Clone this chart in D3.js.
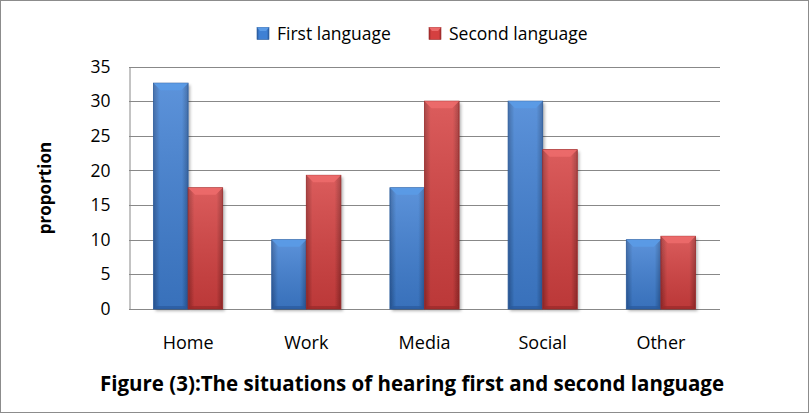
<!DOCTYPE html>
<html><head><meta charset="utf-8">
<script src="https://cdn.jsdelivr.net/npm/d3@7"></script>
<style>html,body{margin:0;padding:0;background:#fff;}svg{display:block;}</style>
</head><body>
<script>
const categories = ["Home", "Work", "Media", "Social", "Other"];
const seriesNames = ["First language", "Second language"];
const firstLanguage = [32.6, 10, 17.5, 30, 10];
const secondLanguage = [17.5, 19.3, 30, 23, 10.5];
const yTicks = [0, 5, 10, 15, 20, 25, 30, 35];
const titleText = "Figure (3):The situations of hearing first and second language";
const yTitle = "proportion";

const W = 809, H = 413;
const font = "'Open Sans', 'Noto Sans', sans-serif";
const svg = d3.select("body").append("svg").attr("width", W).attr("height", H);
const defs = svg.append("defs");

const palettes = [
  {edge: "#2a5a9c", mid: "#3f80d4", light: "#6aa3e8", cap: "#5b9be6"},
  {edge: "#9a2a2a", mid: "#d54040", light: "#e86b6b", cap: "#ec6a6a"}
];
palettes.forEach((p, i) => {
  const g = defs.append("linearGradient").attr("id", "g" + i).attr("x1", 0).attr("x2", 1).attr("y1", 0).attr("y2", 0);
  g.append("stop").attr("offset", "0%").attr("stop-color", p.edge);
  g.append("stop").attr("offset", "18%").attr("stop-color", p.mid);
  g.append("stop").attr("offset", "82%").attr("stop-color", p.mid);
  g.append("stop").attr("offset", "100%").attr("stop-color", p.edge);
  const gv = defs.append("linearGradient").attr("id", "v" + i).attr("x1", 0).attr("x2", 0).attr("y1", 0).attr("y2", 1);
  gv.append("stop").attr("offset", "0%").attr("stop-color", "#fff").attr("stop-opacity", 0.15);
  gv.append("stop").attr("offset", "100%").attr("stop-color", "#000").attr("stop-opacity", 0.12);
});
const sh = defs.append("filter").attr("id", "shadow").attr("x", "-20%").attr("y", "-5%").attr("width", "150%").attr("height", "115%");
sh.append("feDropShadow").attr("dx", 2).attr("dy", 2).attr("stdDeviation", 1.5).attr("flood-color", "#000").attr("flood-opacity", 0.3);

// outer border
svg.append("rect").attr("x", 0.5).attr("y", 0.5).attr("width", W - 1).attr("height", H - 1)
  .attr("fill", "none").attr("stroke", "#8c8c8c");

const m = {left: 129, right: 720, top: 66.5, bottom: 309};
const x0 = d3.scaleBand().domain(categories).range([m.left, m.right]).paddingInner(0.415).paddingOuter(0.2075);
const x1 = d3.scaleBand().domain(seriesNames).range([0, x0.bandwidth()]);
const y = d3.scaleLinear().domain([0, 35]).range([m.bottom, m.top]);

// gridlines
svg.append("g").selectAll("line").data(yTicks.filter(d => d > 0)).join("line")
  .attr("x1", m.left).attr("x2", m.right)
  .attr("y1", d => Math.round(y(d)) + 0.5).attr("y2", d => Math.round(y(d)) + 0.5)
  .attr("stroke", "#888").attr("stroke-width", 1);

// y axis
const yAxis = svg.append("g").attr("transform", `translate(${m.left + 0.5},0)`)
  .call(d3.axisLeft(y).tickValues(yTicks).tickSize(0).tickPadding(19));
yAxis.select(".domain").attr("stroke", "#888");
yAxis.selectAll("text").attr("font-family", font).attr("font-size", 17.5).attr("fill", "#000");

// x axis
const xAxis = svg.append("g").attr("transform", `translate(0,${Math.round(m.bottom) + 0.5})`)
  .call(d3.axisBottom(x0).tickSize(0));
xAxis.select(".domain").attr("stroke", "#888").attr("d", `M${m.left},0H${m.right}`);
xAxis.selectAll("text").attr("font-family", font).attr("font-size", 18).attr("fill", "#000")
  .attr("y", 39.5).attr("dy", 0);

// bars
const data = categories.map((c, i) => ({cat: c, vals: [firstLanguage[i], secondLanguage[i]]}));
const groups = svg.append("g").selectAll("g").data(data).join("g")
  .attr("transform", d => `translate(${x0(d.cat)},0)`);
const bars = groups.selectAll("g.bar").data(d => d.vals.map((v, i) => ({v, i, s: seriesNames[i]}))).join("g").attr("class", "bar");
bars.append("rect")
  .attr("x", d => x1(d.s)).attr("y", d => y(d.v))
  .attr("width", x1.bandwidth()).attr("height", d => y(0) - y(d.v))
  .attr("fill", d => `url(#g${d.i})`).attr("filter", "url(#shadow)");
bars.append("rect")
  .attr("x", d => x1(d.s)).attr("y", d => y(d.v))
  .attr("width", x1.bandwidth()).attr("height", d => y(0) - y(d.v))
  .attr("fill", d => `url(#v${d.i})`)
  .attr("stroke", d => palettes[d.i].edge).attr("stroke-width", 0.8);
// top bevel
bars.append("path")
  .attr("d", d => {
    const bx = x1(d.s), bw = x1.bandwidth(), by = y(d.v), b = 7;
    return `M${bx},${by}H${bx + bw}L${bx + bw - b},${by + b}H${bx + b}Z`;
  })
  .attr("fill", d => palettes[d.i].cap).attr("opacity", 0.95);
// bottom bevel
bars.append("path")
  .attr("d", d => {
    const bx = x1(d.s), bw = x1.bandwidth(), by = y(0), b = 3;
    return `M${bx},${by}H${bx + bw}L${bx + bw - b},${by - b}H${bx + b}Z`;
  })
  .attr("fill", d => palettes[d.i].edge).attr("opacity", 0.7);

// y title
svg.append("text").attr("transform", "translate(51,188) rotate(-90)")
  .attr("text-anchor", "middle").attr("font-family", font).attr("font-weight", "bold")
  .attr("font-size", 17).text(yTitle);

// legend
const legendX = [257, 429];
const lg = svg.append("g").selectAll("g").data(seriesNames).join("g")
  .attr("transform", (d, i) => `translate(${legendX[i]},27.5)`);
lg.append("rect").attr("width", 12).attr("height", 12).attr("fill", (d, i) => `url(#g${i})`)
  .attr("stroke", (d, i) => palettes[i].edge).attr("stroke-width", 0.6);
lg.append("path").attr("d", "M0,0H12L9,3.5H3Z").attr("fill", (d, i) => palettes[i].cap);
lg.append("text").attr("x", 20).attr("y", 12).attr("font-family", font).attr("font-size", 17.5)
  .attr("fill", "#000").text(d => d);

// title
svg.append("text").attr("x", 412).attr("y", 391).attr("text-anchor", "middle")
  .attr("font-family", font).attr("font-weight", "bold").attr("font-size", 20.5)
  .attr("fill", "#000").text(titleText);
</script>
</body></html>
